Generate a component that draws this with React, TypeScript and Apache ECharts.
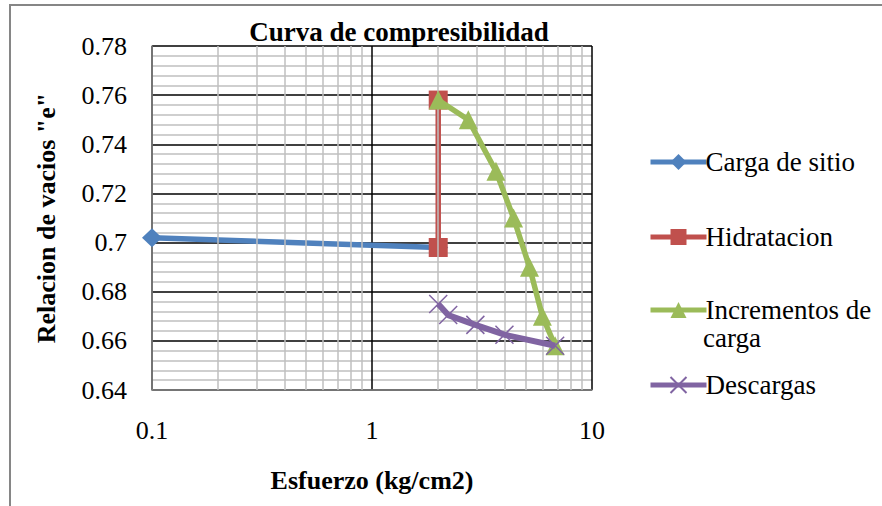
import React, { useEffect, useRef } from "react";
import * as echarts from "echarts";

const cargaX = [0.1, 2];
const cargaY = [0.702, 0.698];
const hidX = [2, 2];
const hidY = [0.698, 0.758];
const incX = [2, 2.74, 3.66, 4.4, 5.2, 5.95, 6.8];
const incY = [0.758, 0.75, 0.729, 0.71, 0.69, 0.67, 0.658];
const descX = [2, 2.22, 2.95, 4, 6.8];
const descY = [0.675, 0.6705, 0.6665, 0.6625, 0.658];
const minorX = [0.2, 0.3, 0.4, 0.5, 0.6, 0.7, 0.8, 0.9, 2, 3, 4, 5, 6, 7, 8, 9];
const seriesNames = ["Carga de sitio", "Hidratacion", "Incrementos de carga", "Descargas"];
const colors = ["#4F81BD", "#C0504D", "#9BBB59", "#8064A2"];

const FONT = "'Liberation Serif', 'Times New Roman', serif";

const zip = (xs: number[], ys: number[]) => xs.map((x, i) => [x, ys[i]]);

export default function App() {
  const ref = useRef<HTMLDivElement>(null);
  useEffect(() => {
    document.body.style.margin = "0";
    const chart = echarts.init(ref.current!, null, { renderer: "svg" });
    const legendTops = [143, 218, 291, 366];
    const option: any = {
      animation: false,
      backgroundColor: "#fff",
      title: {
        text: "Curva de compresibilidad",
        left: 394,
        top: 13,
        textAlign: "center",
        textStyle: { fontFamily: FONT, fontSize: 27, fontWeight: "bold", color: "#000" },
      },
      legend: seriesNames.map((n, i) => ({
        data: [n],
        left: 643,
        top: legendTops[i],
        itemWidth: 56,
        itemHeight: 20,
        lineStyle: { width: 5 },
        formatter: (name: string) => (name === "Incrementos de carga" ? "Incrementos de" : name),
        textStyle: { fontFamily: FONT, fontSize: 27, color: "#000", lineHeight: 28, padding: [0, 0, 0, -6] },
        selectedMode: false,
      })),
      graphic: [
        {
          type: "rect",
          shape: { x: 10, y: 5, width: 1000, height: 700 },
          style: { fill: "none", stroke: "#868686", lineWidth: 2 },
          silent: true,
        },
        {
          type: "text",
          left: 703,
          top: 324,
          style: { text: "carga", font: `27px ${FONT}`, fill: "#000" },
        },
      ],
      grid: { left: 152, right: 290, top: 46, bottom: 116 },
      xAxis: {
        type: "log",
        logBase: 10,
        min: 0.1,
        max: 10,
        name: "Esfuerzo (kg/cm2)",
        nameLocation: "middle",
        nameGap: 77,
        nameTextStyle: { fontFamily: FONT, fontSize: 26, fontWeight: "bold", color: "#000" },
        axisLine: { lineStyle: { color: "#868686", width: 1.5 } },
        axisTick: { show: false },
        axisLabel: { fontFamily: FONT, fontSize: 26, color: "#000", margin: 27 },
        splitLine: { show: true, lineStyle: { color: "#000", width: 1.5 } },
      },
      yAxis: {
        type: "value",
        min: 0.64,
        max: 0.78,
        interval: 0.02,
        name: 'Relacion de vacios "e"',
        nameLocation: "middle",
        nameGap: 93,
        nameTextStyle: { fontFamily: FONT, fontSize: 26, fontWeight: "bold", color: "#000" },
        axisLine: { show: true, lineStyle: { color: "#868686", width: 1.5 } },
        axisTick: { show: false },
        axisLabel: { fontFamily: FONT, fontSize: 26, color: "#000", margin: 25 },
        splitLine: { show: true, lineStyle: { color: "#000", width: 1.5 } },
        minorTick: { show: false, splitNumber: 5 },
        minorSplitLine: { show: true, lineStyle: { color: "#BFBFBF", width: 1.5 } },
      },
      series: [
        {
          name: "grid",
          type: "line",
          data: [[1, 0.7]],
          showSymbol: false,
          symbol: "none",
          lineStyle: { opacity: 0 },
          z: 1,
          silent: true,
          markLine: {
            silent: true,
            symbol: ["none", "none"],
            label: { show: false },
            lineStyle: { color: "#BFBFBF", width: 1.5, type: "solid" },
            data: minorX.map((v) => ({ xAxis: v })),
          },
        },
        {
          name: seriesNames[0],
          type: "line",
          data: zip(cargaX, cargaY),
          symbol: "diamond",
          symbolSize: [20, 19],
          itemStyle: { color: colors[0] },
          lineStyle: { color: colors[0], width: 5.5 },
          z: 3,
        },
        {
          name: seriesNames[1],
          type: "line",
          data: zip(hidX, hidY),
          symbol: "rect",
          symbolSize: 19,
          itemStyle: { color: colors[1] },
          lineStyle: { color: colors[1], width: 5.5 },
          z: 4,
        },
        {
          name: seriesNames[2],
          type: "line",
          data: zip(incX, incY),
          symbol: "triangle",
          symbolSize: 19,
          itemStyle: { color: colors[2] },
          lineStyle: { color: colors[2], width: 5.5 },
          z: 5,
        },
        {
          name: seriesNames[3],
          type: "line",
          data: zip(descX, descY),
          symbol: "path://M0,0L10,10M10,0L0,10",
          symbolSize: 18,
          itemStyle: { color: colors[3], borderColor: colors[3], borderWidth: 1.5 },
          lineStyle: { color: colors[3], width: 6 },
          z: 6,
        },
      ],
    };
    chart.setOption(option);
    return () => chart.dispose();
  }, []);
  return <div ref={ref} style={{ width: 882, height: 506 }} />;
}
